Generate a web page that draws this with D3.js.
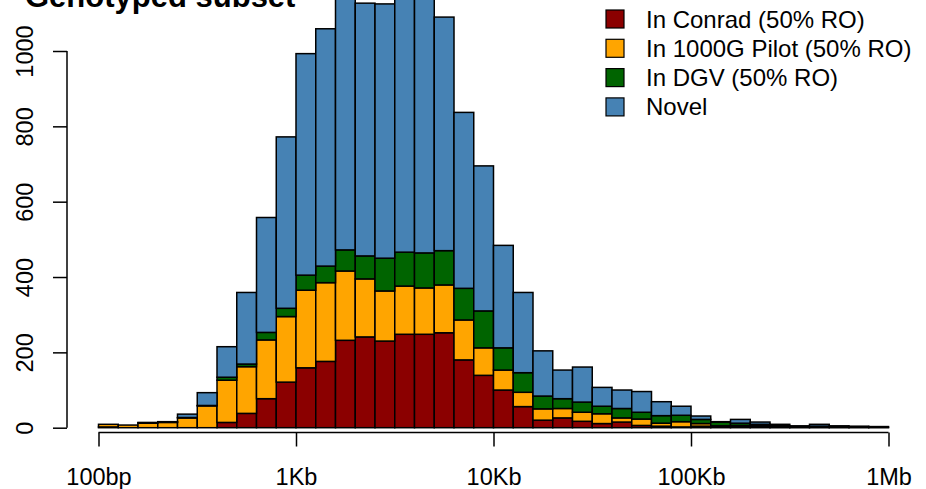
<!DOCTYPE html>
<html>
<head>
<meta charset="utf-8">
<script src="https://cdn.jsdelivr.net/npm/d3@7"></script>
<style>
    body { margin: 0; background: #fff; }
    text { font-family: "Liberation Sans", Arial, sans-serif; fill: #000; }
</style>
</head>
<body>
<script>
// 40 log-spaced bins, 10 per decade, from 100bp to 1Mb
var binEdges = d3.range(41).map(function (i) { return Math.pow(10, 2 + i / 10); });

// counts per bin for each series (stacked bottom to top)
var conrad = [2, 0, 0, 0, 0, 0, 14, 38, 77, 121, 159, 176, 232, 241, 230, 248, 248, 252, 180, 139,
              100, 56, 20, 26, 17, 11, 15, 6, 4, 2, 4, 3, 3, 2, 1, 0, 1, 0, 0, 0];
var g1000  = [7, 7, 12, 14, 26, 58, 112, 124, 156, 174, 206, 209, 184, 154, 133, 128, 123, 127, 106, 73,
              53, 38, 30, 25, 24, 26, 11, 17, 8, 14, 7, 2, 3, 4, 3, 1, 1, 1, 1, 1];
var dgv    = [0, 0, 1, 1, 1, 1, 8, 7, 20, 22, 40, 44, 56, 61, 87, 90, 93, 91, 84, 98,
              59, 52, 34, 26, 27, 20, 25, 18, 20, 17, 11, 10, 6, 3, 2, 1, 2, 1, 0, 0];
var novel  = [0, 0, 1, 1, 9, 34, 81, 190, 305, 455, 588, 630, 693, 671, 675, 684, 681, 620, 467, 385,
              272, 213, 120, 76, 93, 50, 49, 55, 37, 24, 9, 1, 10, 6, 3, 3, 5, 3, 3, 2];

var seriesNames = ['In Conrad (50% RO)', 'In 1000G Pilot (50% RO)', 'In DGV (50% RO)', 'Novel'];
var seriesColors = ['#8B0000', '#FFA500', '#006400', '#4682B4'];

var xTicks = [1e2, 1e3, 1e4, 1e5, 1e6];
var xTickLabels = ['100bp', '1Kb', '10Kb', '100Kb', '1Mb'];
var yTicks = [0, 200, 400, 600, 800, 1000];

var svgWidth = 926;
var svgHeight = 489;

var svg = d3.select('body').append('svg').attr('width', svgWidth).attr('height', svgHeight);

var x = d3.scaleLog().domain([100, 1e6]).range([98.5, 888.5]);
var y = d3.scaleLinear().domain([0, 1000]).range([427.7, 51]);

// build table for the stack
var table = binEdges.slice(0, 40).map(function (lo, i) {
    return { lo: lo, hi: binEdges[i + 1], s0: conrad[i], s1: g1000[i], s2: dgv[i], s3: novel[i] };
});
var stack = d3.stack().keys(['s0', 's1', 's2', 's3'])(table);

// bars
svg.append('g').selectAll('g')
    .data(stack)
    .enter()
    .append('g')
    .attr('fill', function (d, i) { return seriesColors[i]; })
    .selectAll('rect')
    .data(function (d) { return d.filter(function (p) { return p[1] > p[0]; }); })
    .enter()
    .append('rect')
    .attr('x', function (d) { return x(d.data.lo); })
    .attr('width', function (d) { return x(d.data.hi) - x(d.data.lo); })
    .attr('y', function (d) { return y(d[1]); })
    .attr('height', function (d) { return y(d[0]) - y(d[1]); })
    .attr('stroke', '#000')
    .attr('stroke-width', 1.5);

// y axis
var yAxis = svg.append('g').attr('transform', 'translate(67,0)')
    .call(d3.axisLeft(y).tickValues(yTicks).tickSize(14).tickFormat(d3.format('d')));
yAxis.select('.domain').attr('stroke-width', 1.5).attr('d', 'M0,' + y(0) + 'V' + y(1000));
yAxis.selectAll('.tick line').attr('stroke-width', 1.5);
yAxis.selectAll('.tick text')
    .attr('x', null).attr('dy', null)
    .attr('transform', 'translate(-34,0) rotate(-90)')
    .attr('text-anchor', 'middle')
    .style('font-size', '23.5px')
    .style('font-family', '"Liberation Sans", Arial, sans-serif');

// x axis
var xAxis = svg.append('g').attr('transform', 'translate(0,432.5)')
    .call(d3.axisBottom(x).tickValues(xTicks).tickSize(14)
        .tickFormat(function (d, i) { return xTickLabels[i]; }));
xAxis.select('.domain').attr('stroke-width', 1.5).attr('d', 'M' + x(100) + ',0H' + x(1e6));
xAxis.selectAll('.tick line').attr('stroke-width', 1.5);
xAxis.selectAll('.tick text')
    .attr('y', 52.5).attr('dy', null)
    .style('font-size', '23.5px')
    .style('font-family', '"Liberation Sans", Arial, sans-serif');

// title (cut off at the top, as in the original)
svg.append('text')
    .attr('x', 25).attr('y', 7)
    .style('font-size', '31px')
    .style('font-weight', 'bold')
    .text('Genotyped subset');

// legend
var legend = svg.append('g').selectAll('g')
    .data(seriesNames)
    .enter()
    .append('g')
    .attr('transform', function (d, i) { return 'translate(606,' + (19 + i * 29.3) + ')'; });

legend.append('rect')
    .attr('x', 0).attr('y', -9)
    .attr('width', 18).attr('height', 18)
    .attr('fill', function (d, i) { return seriesColors[i]; })
    .attr('stroke', '#000')
    .attr('stroke-width', 1.2);

legend.append('text')
    .attr('x', 40).attr('y', 8.5)
    .style('font-size', '24px')
    .text(function (d) { return d; });
</script>
</body>
</html>
